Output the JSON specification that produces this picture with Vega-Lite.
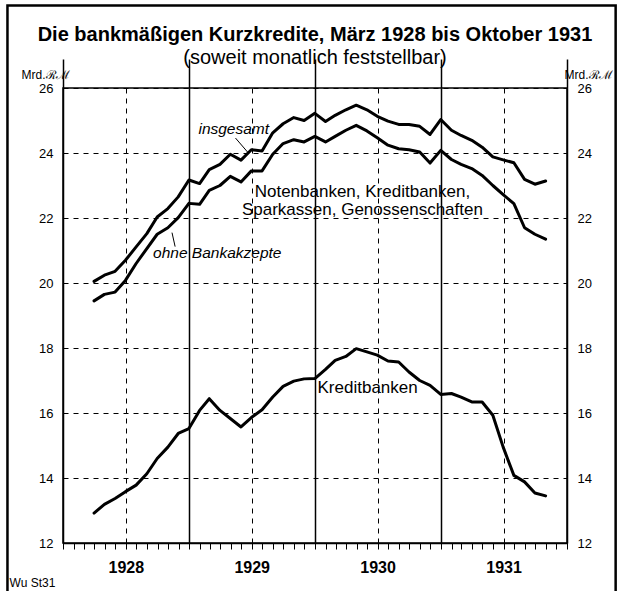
{
  "$schema": "https://vega.github.io/schema/vega-lite/v6.json",
  "width": 504,
  "height": 455,
  "autosize": {"type": "none"},
  "padding": {"left": 63, "top": 88, "right": 56, "bottom": 48},
  "background": "white",
  "title": {
    "text": "Die bankmäßigen Kurzkredite, März 1928 bis Oktober 1931",
    "subtitle": "(soweit monatlich feststellbar)",
    "frame": "group",
    "font": "Liberation Sans",
    "fontSize": 20,
    "fontWeight": "bold",
    "color": "black",
    "subtitleFont": "Liberation Sans",
    "subtitleFontSize": 20,
    "subtitleColor": "black",
    "subtitlePadding": 3,
    "offset": -64,
    "anchor": "middle"
  },
  "datasets": {
    "kredite": [
      {"monat": "1928-03-31", "insgesamt": 20.05, "ohne Bankakzepte": 19.45, "Kreditbanken": 12.92},
      {"monat": "1928-04-30", "insgesamt": 20.24, "ohne Bankakzepte": 19.65, "Kreditbanken": 13.19},
      {"monat": "1928-05-31", "insgesamt": 20.36, "ohne Bankakzepte": 19.72, "Kreditbanken": 13.37},
      {"monat": "1928-06-30", "insgesamt": 20.70, "ohne Bankakzepte": 20.08, "Kreditbanken": 13.58},
      {"monat": "1928-07-31", "insgesamt": 21.11, "ohne Bankakzepte": 20.60, "Kreditbanken": 13.78},
      {"monat": "1928-08-31", "insgesamt": 21.52, "ohne Bankakzepte": 21.06, "Kreditbanken": 14.13},
      {"monat": "1928-09-30", "insgesamt": 22.03, "ohne Bankakzepte": 21.50, "Kreditbanken": 14.60},
      {"monat": "1928-10-31", "insgesamt": 22.29, "ohne Bankakzepte": 21.70, "Kreditbanken": 14.95},
      {"monat": "1928-11-30", "insgesamt": 22.65, "ohne Bankakzepte": 22.01, "Kreditbanken": 15.37},
      {"monat": "1928-12-31", "insgesamt": 23.17, "ohne Bankakzepte": 22.45, "Kreditbanken": 15.52},
      {"monat": "1929-01-31", "insgesamt": 23.06, "ohne Bankakzepte": 22.42, "Kreditbanken": 16.08},
      {"monat": "1929-02-28", "insgesamt": 23.49, "ohne Bankakzepte": 22.85, "Kreditbanken": 16.44},
      {"monat": "1929-03-31", "insgesamt": 23.65, "ohne Bankakzepte": 23.00, "Kreditbanken": 16.08},
      {"monat": "1929-04-30", "insgesamt": 23.96, "ohne Bankakzepte": 23.28, "Kreditbanken": 15.83},
      {"monat": "1929-05-31", "insgesamt": 23.78, "ohne Bankakzepte": 23.11, "Kreditbanken": 15.57},
      {"monat": "1929-06-30", "insgesamt": 24.10, "ohne Bankakzepte": 23.45, "Kreditbanken": 15.86},
      {"monat": "1929-07-31", "insgesamt": 24.06, "ohne Bankakzepte": 23.45, "Kreditbanken": 16.10},
      {"monat": "1929-08-31", "insgesamt": 24.62, "ohne Bankakzepte": 23.96, "Kreditbanken": 16.49},
      {"monat": "1929-09-30", "insgesamt": 24.90, "ohne Bankakzepte": 24.29, "Kreditbanken": 16.82},
      {"monat": "1929-10-31", "insgesamt": 25.09, "ohne Bankakzepte": 24.41, "Kreditbanken": 16.98},
      {"monat": "1929-11-30", "insgesamt": 25.00, "ohne Bankakzepte": 24.34, "Kreditbanken": 17.05},
      {"monat": "1929-12-31", "insgesamt": 25.22, "ohne Bankakzepte": 24.51, "Kreditbanken": 17.06},
      {"monat": "1930-01-31", "insgesamt": 24.97, "ohne Bankakzepte": 24.34, "Kreditbanken": 17.34},
      {"monat": "1930-02-28", "insgesamt": 25.16, "ohne Bankakzepte": 24.51, "Kreditbanken": 17.62},
      {"monat": "1930-03-31", "insgesamt": 25.33, "ohne Bankakzepte": 24.70, "Kreditbanken": 17.74},
      {"monat": "1930-04-30", "insgesamt": 25.47, "ohne Bankakzepte": 24.85, "Kreditbanken": 17.98},
      {"monat": "1930-05-31", "insgesamt": 25.33, "ohne Bankakzepte": 24.68, "Kreditbanken": 17.88},
      {"monat": "1930-06-30", "insgesamt": 25.13, "ohne Bankakzepte": 24.47, "Kreditbanken": 17.78},
      {"monat": "1930-07-31", "insgesamt": 24.98, "ohne Bankakzepte": 24.24, "Kreditbanken": 17.60},
      {"monat": "1930-08-31", "insgesamt": 24.88, "ohne Bankakzepte": 24.13, "Kreditbanken": 17.57},
      {"monat": "1930-09-30", "insgesamt": 24.88, "ohne Bankakzepte": 24.10, "Kreditbanken": 17.26},
      {"monat": "1930-10-31", "insgesamt": 24.82, "ohne Bankakzepte": 24.03, "Kreditbanken": 17.00},
      {"monat": "1930-11-30", "insgesamt": 24.57, "ohne Bankakzepte": 23.69, "Kreditbanken": 16.85},
      {"monat": "1930-12-31", "insgesamt": 25.03, "ohne Bankakzepte": 24.08, "Kreditbanken": 16.57},
      {"monat": "1931-01-31", "insgesamt": 24.70, "ohne Bankakzepte": 23.80, "Kreditbanken": 16.60},
      {"monat": "1931-02-28", "insgesamt": 24.54, "ohne Bankakzepte": 23.65, "Kreditbanken": 16.49},
      {"monat": "1931-03-31", "insgesamt": 24.39, "ohne Bankakzepte": 23.52, "Kreditbanken": 16.34},
      {"monat": "1931-04-30", "insgesamt": 24.18, "ohne Bankakzepte": 23.31, "Kreditbanken": 16.34},
      {"monat": "1931-05-31", "insgesamt": 23.88, "ohne Bankakzepte": 23.00, "Kreditbanken": 15.93},
      {"monat": "1931-06-30", "insgesamt": 23.79, "ohne Bankakzepte": 22.72, "Kreditbanken": 14.95},
      {"monat": "1931-07-31", "insgesamt": 23.70, "ohne Bankakzepte": 22.44, "Kreditbanken": 14.08},
      {"monat": "1931-08-31", "insgesamt": 23.19, "ohne Bankakzepte": 21.70, "Kreditbanken": 13.88},
      {"monat": "1931-09-30", "insgesamt": 23.04, "ohne Bankakzepte": 21.50, "Kreditbanken": 13.54},
      {"monat": "1931-10-31", "insgesamt": 23.14, "ohne Bankakzepte": 21.35, "Kreditbanken": 13.45}
    ]
  },
  "layer": [
    {
      "data": {"values": [{}]},
      "mark": {"type": "rect", "fill": null, "stroke": "black", "strokeWidth": 2.5},
      "encoding": {
        "x": {"datum": {"year": 1927, "month": 7, "date": 24, "utc": true}, "type": "temporal", "axis": null,
              "scale": {"type": "utc", "domain": [{"year": 1928, "month": 1, "date": 1, "utc": true}, {"year": 1932, "month": 1, "date": 1, "utc": true}]}},
        "x2": {"datum": {"year": 1932, "month": 5, "date": 21, "utc": true}},
        "y": {"datum": 28.54, "type": "quantitative", "axis": null, "scale": {"domain": [12, 26], "nice": false, "zero": false}},
        "y2": {"datum": 10.3}
      }
    },
    {
      "data": {"name": "kredite"},
      "transform": [{"fold": ["insgesamt", "ohne Bankakzepte"], "as": ["reihe", "wert"]}],
      "mark": {"type": "line", "color": "black", "strokeWidth": 3, "strokeJoin": "round", "strokeCap": "round"},
      "encoding": {
        "x": {
          "field": "monat", "type": "temporal",
          "scale": {"type": "utc", "domain": [{"year": 1928, "month": 1, "date": 1, "utc": true}, {"year": 1932, "month": 1, "date": 1, "utc": true}]},
          "axis": {
            "title": null,
            "tickCount": {"interval": "month", "step": 1},
            "domain": true, "domainColor": "black", "domainWidth": 1.5,
            "ticks": true, "tickColor": "black", "tickWidth": 1, "tickSize": 6,
            "grid": true, "gridColor": "black",
            "gridOpacity": {"condition": {"test": "utcmonth(datum.value) % 6 === 0", "value": 1}, "value": 0},
            "gridDash": {"condition": {"test": "utcmonth(datum.value) === 0", "value": []}, "value": [5, 5]},
            "gridWidth": {"condition": {"test": "utcmonth(datum.value) === 0", "value": 1.5}, "value": 1},
            "labelExpr": "utcmonth(datum.value) === 6 ? '' + utcyear(datum.value) : ''",
            "labelOverlap": false,
            "labelFontSize": 16, "labelFontWeight": "bold", "labelColor": "black",
            "labelPadding": 10
          }
        },
        "y": {
          "field": "wert", "type": "quantitative",
          "scale": {"domain": [12, 26], "nice": false, "zero": false},
          "axis": {
            "orient": "left",
            "values": [12, 14, 16, 18, 20, 22, 24, 26],
            "grid": true, "gridColor": "black", "gridDash": [5, 5], "gridWidth": 1,
            "ticks": false, "domain": false,
            "labelFontSize": 13, "labelColor": "black", "labelPadding": 10,
            "title": "Mrd.ℛℳ", "titleAngle": 0, "titleX": -18, "titleY": -14,
            "titleAlign": "center", "titleBaseline": "middle",
            "titleFontSize": 12, "titleFontWeight": "normal", "titleColor": "black"
          }
        },
        "detail": {"field": "reihe"}
      }
    },
    {
      "data": {"name": "kredite"},
      "mark": {"type": "line", "color": "black", "strokeWidth": 3, "strokeJoin": "round", "strokeCap": "round"},
      "encoding": {
        "x": {"field": "monat", "type": "temporal",
              "scale": {"type": "utc", "domain": [{"year": 1928, "month": 1, "date": 1, "utc": true}, {"year": 1932, "month": 1, "date": 1, "utc": true}]},
              "axis": {
                "title": null,
                "values": [
                  {"year": 1928, "month": 1, "date": 1, "utc": true},
                  {"year": 1929, "month": 1, "date": 1, "utc": true},
                  {"year": 1930, "month": 1, "date": 1, "utc": true},
                  {"year": 1931, "month": 1, "date": 1, "utc": true},
                  {"year": 1932, "month": 1, "date": 1, "utc": true}
                ],
                "domain": false, "grid": false, "labels": false,
                "ticks": true, "tickColor": "black", "tickWidth": 1.5, "tickSize": 29
              }},
        "y": {
          "field": "Kreditbanken", "type": "quantitative",
          "scale": {"domain": [12, 26], "nice": false, "zero": false},
          "axis": {
            "orient": "right",
            "values": [12, 14, 16, 18, 20, 22, 24, 26],
            "grid": false, "ticks": false, "domain": false,
            "labelFontSize": 13, "labelColor": "black", "labelPadding": 10,
            "title": "Mrd.ℛℳ", "titleAngle": 0, "titleX": 21, "titleY": -14,
            "titleAlign": "center", "titleBaseline": "middle",
            "titleFontSize": 12, "titleFontWeight": "normal", "titleColor": "black"
          }
        }
      }
    },
    {
      "data": {"values": [{}]},
      "mark": {"type": "text", "text": "insgesamt", "fontSize": 15.5, "fontStyle": "italic", "align": "center", "baseline": "middle", "color": "black"},
      "encoding": {
        "x": {"datum": {"year": 1929, "month": 5, "date": 10, "utc": true}, "type": "temporal", "axis": null},
        "y": {"datum": 24.73, "type": "quantitative", "axis": null}
      }
    },
    {
      "data": {"values": [{}]},
      "mark": {"type": "rule", "color": "black", "strokeWidth": 1},
      "encoding": {
        "x": {"datum": {"year": 1929, "month": 5, "date": 15, "utc": true}, "type": "temporal", "axis": null},
        "y": {"datum": 24.46, "type": "quantitative", "axis": null},
        "x2": {"datum": {"year": 1929, "month": 6, "date": 19, "utc": true}},
        "y2": {"datum": 24.03}
      }
    },
    {
      "data": {"values": [{}]},
      "mark": {"type": "text", "text": "ohne Bankakzepte", "fontSize": 15.5, "fontStyle": "italic", "align": "left", "baseline": "middle", "color": "black"},
      "encoding": {
        "x": {"datum": {"year": 1928, "month": 9, "date": 18, "utc": true}, "type": "temporal", "axis": null},
        "y": {"datum": 20.91, "type": "quantitative", "axis": null}
      }
    },
    {
      "data": {"values": [{}]},
      "mark": {"type": "rule", "color": "black", "strokeWidth": 1},
      "encoding": {
        "x": {"datum": {"year": 1928, "month": 11, "date": 21, "utc": true}, "type": "temporal", "axis": null},
        "y": {"datum": 21.12, "type": "quantitative", "axis": null},
        "x2": {"datum": {"year": 1928, "month": 11, "date": 12, "utc": true}},
        "y2": {"datum": 21.55}
      }
    },
    {
      "data": {"values": [{}]},
      "mark": {"type": "text", "text": ["Notenbanken, Kreditbanken,", "Sparkassen, Genossenschaften"], "fontSize": 17, "lineHeight": 18, "align": "center", "baseline": "middle", "color": "black"},
      "encoding": {
        "x": {"datum": {"year": 1930, "month": 5, "date": 18, "utc": true}, "type": "temporal", "axis": null},
        "y": {"datum": 22.79, "type": "quantitative", "axis": null}
      }
    },
    {
      "data": {"values": [{}]},
      "mark": {"type": "text", "text": "Kreditbanken", "fontSize": 17, "align": "center", "baseline": "middle", "color": "black"},
      "encoding": {
        "x": {"datum": {"year": 1930, "month": 6, "date": 2, "utc": true}, "type": "temporal", "axis": null},
        "y": {"datum": 16.76, "type": "quantitative", "axis": null}
      }
    },
    {
      "data": {"values": [{}]},
      "mark": {"type": "text", "text": "Wu St31", "fontSize": 12, "align": "left", "baseline": "middle", "color": "black"},
      "encoding": {
        "x": {"datum": {"year": 1927, "month": 7, "date": 30, "utc": true}, "type": "temporal", "axis": null},
        "y": {"datum": 10.78, "type": "quantitative", "axis": null}
      }
    }
  ],
  "resolve": {"axis": {"y": "independent", "x": "independent"}},
  "config": {
    "font": "Liberation Sans",
    "view": {"stroke": "black", "strokeWidth": 1.5}
  }
}
